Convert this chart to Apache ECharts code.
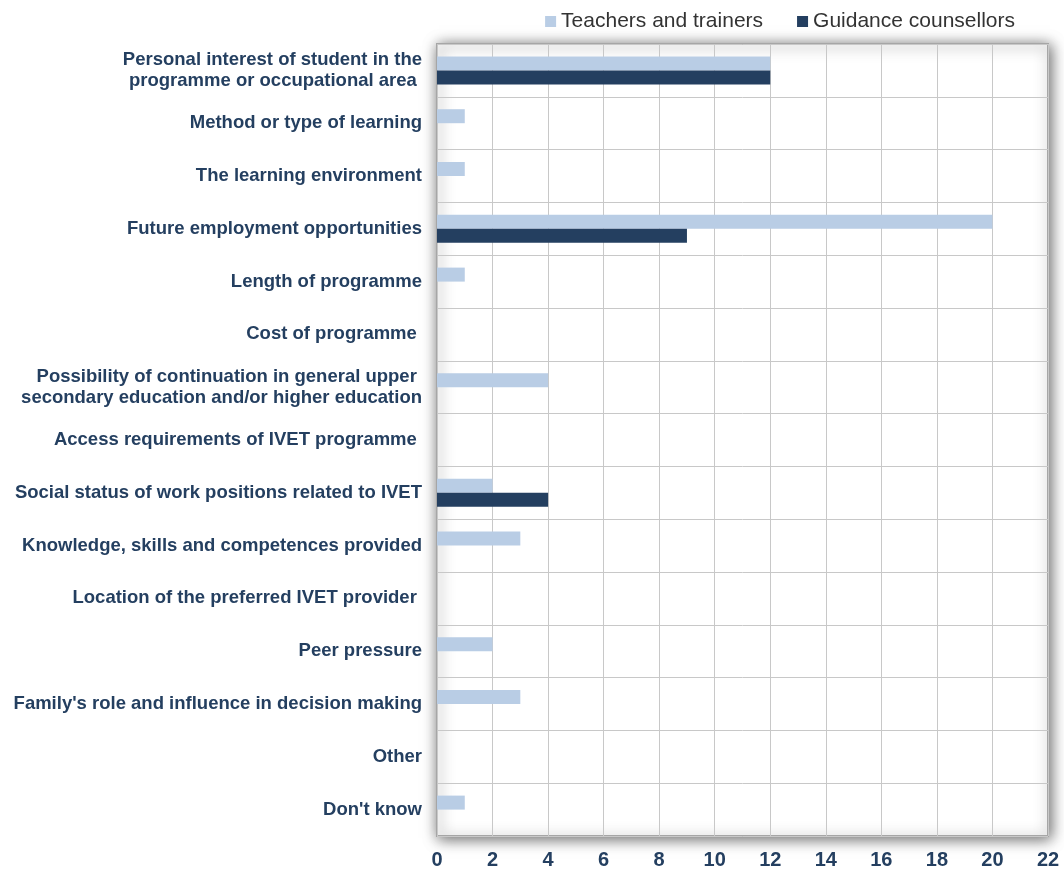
<!DOCTYPE html>
<html><head><meta charset="utf-8">
<script src="https://cdn.jsdelivr.net/npm/echarts@6/dist/echarts.min.js"></script>
<style>html,body{margin:0;padding:0;background:#fff}#c{width:1064px;height:872px}</style>
</head><body><div id="c"></div>
<script>
const categories = [
  "Personal interest of student in the\nprogramme or occupational area ",
  "Method or type of learning",
  "The learning environment",
  "Future employment opportunities",
  "Length of programme",
  "Cost of programme ",
  "Possibility of continuation in general upper \nsecondary education and/or higher education",
  "Access requirements of IVET programme ",
  "Social status of work positions related to IVET",
  "Knowledge, skills and competences provided",
  "Location of the preferred IVET provider ",
  "Peer pressure",
  "Family's role and influence in decision making",
  "Other",
  "Don't know"
];
const teachers = [12, 1, 1, 20, 1, 0, 4, 0, 2, 3, 0, 2, 3, 0, 1];
const counsellors = [12, 0, 0, 9, 0, 0, 0, 0, 4, 0, 0, 0, 0, 0, 0];
const seriesNames = ["Teachers and trainers", "Guidance counsellors"];

const chart = echarts.init(document.getElementById('c'));
chart.setOption({
  animation: false,
  backgroundColor: '#fff',
  legend: {
    top: 6, right: 44,
    itemWidth: 11, itemHeight: 11, itemGap: 34,
    icon: 'rect',
    textStyle: { fontFamily: 'Liberation Sans', fontSize: 21, color: '#333' },
    data: seriesNames
  },
  grid: {
    left: 437, right: 16, top: 44, bottom: 36,
    show: true, backgroundColor: '#fff', borderColor: '#a6a6a6', borderWidth: 2,
    shadowBlur: 14, shadowColor: 'rgba(0,0,0,0.6)', shadowOffsetX: 2, shadowOffsetY: 2
  },
  xAxis: {
    type: 'value', min: 0, max: 22, interval: 2,
    axisLine: { show: false }, axisTick: { show: false },
    splitLine: { lineStyle: { color: '#c8c8c8', width: 1 } },
    axisLabel: { fontFamily: 'Liberation Sans', fontWeight: 'bold', fontSize: 20, color: '#243f60', margin: 14 }
  },
  yAxis: {
    type: 'category', data: categories, inverse: true,
    axisLine: { show: false }, axisTick: { show: false },
    splitLine: { show: true, lineStyle: { color: '#c8c8c8', width: 1 } },
    axisLabel: { fontFamily: 'Liberation Sans', fontWeight: 'bold', fontSize: 18.5, color: '#243f60', margin: 15, lineHeight: 21, align: 'right' }
  },
  series: [
    { name: seriesNames[0], type: 'bar', data: teachers, barWidth: 14, barGap: '0%',
      itemStyle: { color: '#b9cde5' } },
    { name: seriesNames[1], type: 'bar', data: counsellors, barWidth: 14, barGap: '0%',
      itemStyle: { color: '#243f60' } }
  ]
});
</script></body></html>
